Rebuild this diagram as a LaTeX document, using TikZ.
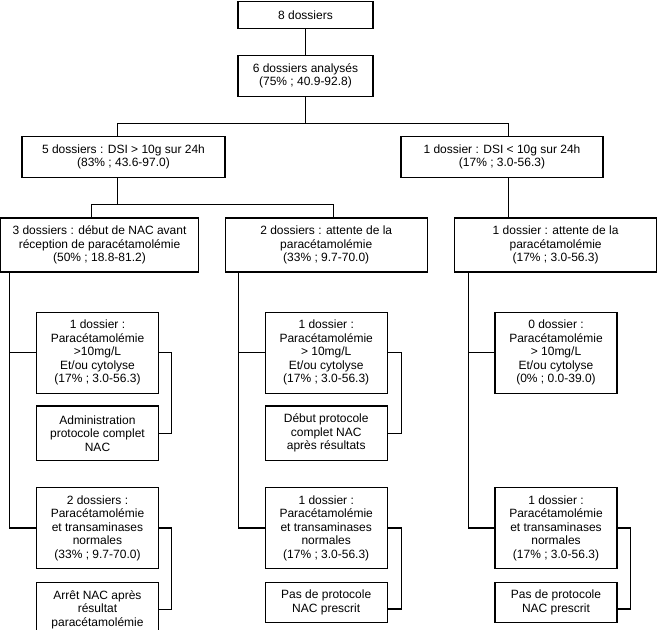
\documentclass[tikz,border=0pt]{standalone}
\usepackage{fontspec}
\setmainfont{Liberation Sans}

\tikzset{
  box/.style={draw, line width=1.1pt, align=center, inner sep=0pt,
    font=\fontsize{12}{13.5}\selectfont},
  wide/.style={box, minimum width=202pt},
  small/.style={box, minimum width=122pt},
  link/.style={line width=1.1pt},
}

\begin{document}
\begin{tikzpicture}[x=1pt,y=-1pt]
\useasboundingbox (0,0) rectangle (658,629);
% top
\node [box, minimum width=135pt, minimum height=26.6pt] (tous) at (305.5,15.2) {8 dossiers};
\node [box, minimum width=135pt, minimum height=40.6pt] (anal) at (305.5,76) {6 dossiers analysés\\(75\% ; 40.9-92.8)};
\node [wide, minimum width=203pt, minimum height=40.7pt] (sup) at (123.5,156.7) {5 dossiers : DSI > 10g sur 24h\\(83\% ; 43.6-97.0)};
\node [wide, minimum height=40.7pt] (inf) at (502,156.7) {1 dossier : DSI < 10g sur 24h\\(17\% ; 3.0-56.3)};
% second level
\node [wide, minimum width=198pt, minimum height=54pt] (nacA) at (99.5,245) {3 dossiers : début de NAC avant\\réception de paracétamolémie\\(50\% ; 18.8-81.2)};
\node [wide, minimum height=54pt] (attB) at (326.2,245) {2 dossiers : attente de la\\paracétamolémie\\(33\% ; 9.7-70.0)};
\node [wide, minimum height=54pt] (attC) at (555.6,245) {1 dossier : attente de la\\paracétamolémie\\(17\% ; 3.0-56.3)};
% column A
\node [small, minimum height=81.3pt] (A1) at (97.5,352.7) {1 dossier :\\Paracétamolémie\\>10mg/L\\Et/ou cytolyse\\(17\% ; 3.0-56.3)};
\node [small, minimum height=54.7pt] (A2) at (97.5,433.3) {Administration\\protocole complet\\NAC};
\node [small, minimum height=80.6pt] (A3) at (97.5,528) {2 dossiers :\\Paracétamolémie\\et transaminases\\normales\\(33\% ; 9.7-70.0)};
\node [small, minimum height=54.7pt] (A4) at (97.5,609.7) {Arrêt NAC après\\résultat\\paracétamolémie};
% column B
\node [small, minimum height=81.3pt] (B1) at (326.2,352.7) {1 dossier :\\Paracétamolémie\\> 10mg/L\\Et/ou cytolyse\\(17\% ; 3.0-56.3)};
\node [small, minimum height=54.7pt] (B2) at (326.2,433.3) {Début protocole\\complet NAC\\après résultats};
\node [small, minimum height=80.6pt] (B3) at (326.2,528) {1 dossier :\\Paracétamolémie\\et transaminases\\normales\\(17\% ; 3.0-56.3)};
\node [small, minimum height=40pt] (B4) at (326.2,602.3) {Pas de protocole\\NAC prescrit};
% column C
\node [small, minimum height=81.3pt] (C1) at (556,352.7) {0 dossier :\\Paracétamolémie\\> 10mg/L\\Et/ou cytolyse\\(0\% ; 0.0-39.0)};
\node [small, minimum height=80.6pt] (C3) at (556,528) {1 dossier :\\Paracétamolémie\\et transaminases\\normales\\(17\% ; 3.0-56.3)};
\node [small, minimum height=40pt] (C4) at (556,602.3) {Pas de protocole\\NAC prescrit};
% links top
\coordinate (j1) at (305.5,123.5);
\coordinate (j2) at (117.5,204.5);
\draw [link] (tous) -- (anal);
\draw [link] (anal.south) -- (j1);
\draw [link] ([xshift=-6pt]sup.north) |- (j1) -| ([xshift=6.5pt]inf.north);
\draw [link] ([xshift=-6pt]sup.south) -- (j2);
\draw [link] ([xshift=-8pt]nacA.north) |- (j2) -| ([xshift=7.3pt]attB.north);
\draw [link] ([xshift=6.5pt]inf.south) -- ([xshift=-47.1pt]attC.north);
% links columns
\draw [link] ([xshift=-90pt]nacA.south) |- (A3.west);
\draw [link] (A1.west) -- ++(-27,0);
\draw [link] ([xshift=-87.7pt]attB.south) |- (B3.west);
\draw [link] (B1.west) -- ++(-26.7,0);
\draw [link] ([xshift=-87.1pt]attC.south) |- (C3.west);
\draw [link] (C1.west) -- ++(-26.5,0);
% brackets
\draw [link] (A1.east) -- ++(12.7,0) |- (A2.east);
\draw [link] (A3.east) -- ++(12.7,0) |- (A4.east);
\draw [link] (B1.east) -- ++(13.5,0) |- (B2.east);
\draw [link] (B3.east) -- ++(13.5,0) |- ([yshift=-6.7pt]B4.east);
\draw [link] (C3.east) -- ++(13,0) |- ([yshift=-6.7pt]C4.east);
\end{tikzpicture}
\end{document}
